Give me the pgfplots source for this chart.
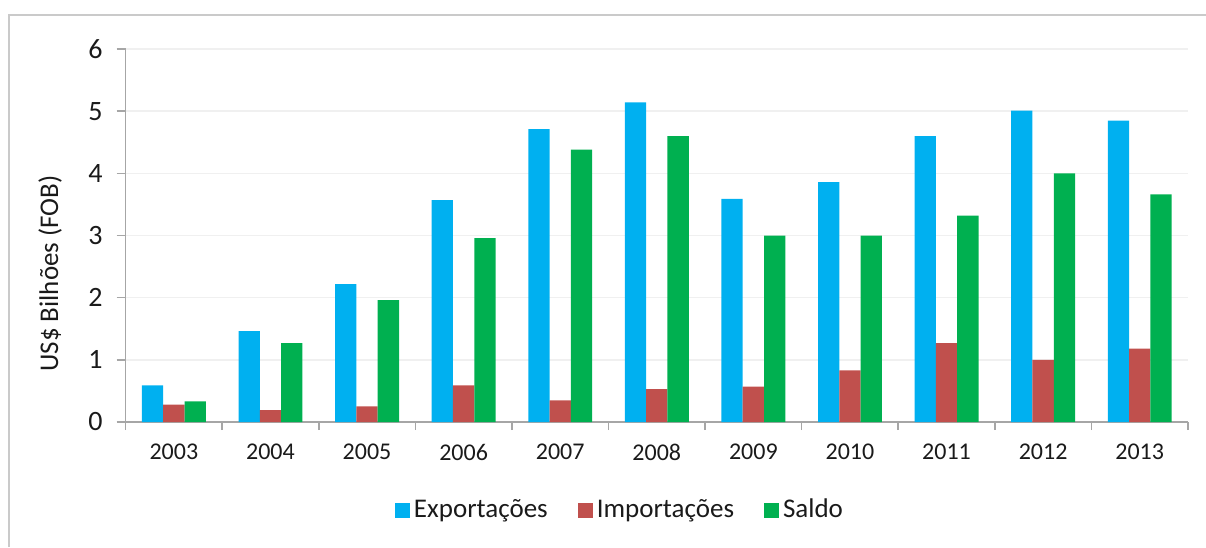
\documentclass[border=0pt]{standalone}
\usepackage{pgfplots}
\pgfplotsset{compat=1.18}
\usepackage{fontspec}
\setmainfont{Carlito}
\definecolor{cExp}{HTML}{00B0F0}
\definecolor{cImp}{HTML}{C0504D}
\definecolor{cSal}{HTML}{00B050}
\definecolor{axgray}{HTML}{A6A6A6}
\definecolor{gridgray}{HTML}{F0F0F0}
\definecolor{framegray}{HTML}{CACACA}
\definecolor{txt}{HTML}{1A1A1A}
\pgfplotsset{sqlegend/.style={legend image code/.code={\fill[##1,draw=none] (0pt,-3.75pt) rectangle (7.5pt,3.75pt);}}}

\pgfplotstableread{
x exp imp sal
0 0.59 0.28 0.33
1 1.46 0.19 1.27
2 2.22 0.25 1.96
3 3.57 0.59 2.96
4 4.71 0.35 4.38
5 5.14 0.53 4.60
6 3.59 0.57 3.00
7 3.86 0.83 3.00
8 4.60 1.27 3.32
9 5.01 1.00 4.00
10 4.85 1.18 3.66
}\datatable

\begin{document}
\begin{tikzpicture}
\path[use as bounding box] (0,0) rectangle (603pt,-273.5pt);
\draw[framegray, line width=1.2pt] (4.6pt,-273.5pt) -- (4.6pt,-7.6pt) -- (603pt,-7.6pt);
\begin{axis}[
  at={(62.8pt,-211pt)}, anchor=south west,
  scale only axis, width=531.2pt, height=186.5pt,
  xmin=-0.5, xmax=10.5, ymin=0, ymax=6,
  ybar=0pt, bar width=10.65pt,
  axis x line*=bottom, axis y line*=left,
  axis line style={axgray, line width=0.8pt, -},
  tick align=outside,
  xtick={0,...,10},
  xticklabels={2003,2004,2005,2006,2007,2008,2009,2010,2011,2012,2013},
  major x tick style={draw=none},
  minor xtick={-0.5,0.5,...,10.5},
  minor x tick style={axgray, line width=0.8pt},
  minor tick length=4pt,
  ytick={0,...,6},
  major y tick style={axgray, line width=0.8pt},
  major tick length=4.5pt,
  ymajorgrids, grid style={gridgray, line width=0.8pt},
  /pgf/number format/assume math mode=true,
  xticklabel style={font=\fontsize{12}{14}\selectfont, text=txt, yshift=-3pt},
  yticklabel style={font=\fontsize{14}{16}\selectfont, text=txt, xshift=-3.5pt},
  legend style={at={(0.4663,-0.236)}, anchor=center, draw=none, fill=none,
    legend columns=3, font=\fontsize{13.5}{16}\selectfont, text=txt,
    /tikz/every even column/.append style={column sep=13pt}},
  legend cell align=left,
  clip=false,
]
\addplot[sqlegend, fill=cExp, draw=none] table[x=x, y=exp] {\datatable};
\addplot[sqlegend, fill=cImp, draw=none] table[x=x, y=imp] {\datatable};
\addplot[sqlegend, fill=cSal, draw=none] table[x=x, y=sal] {\datatable};
\legend{Exportações, Importações, Saldo}
\end{axis}
\node[rotate=90, font=\fontsize{13.5}{16}\selectfont, text=txt] at (25pt,-136.8pt) {US\$ Bilhões (FOB)};
\end{tikzpicture}
\end{document}
